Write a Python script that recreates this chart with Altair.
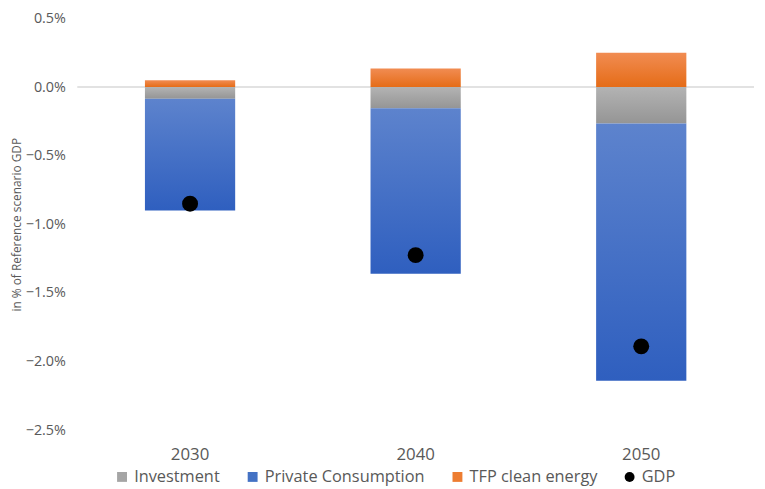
import altair as alt
import pandas as pd

years = ["2030", "2040", "2050"]
investment = [-0.085, -0.155, -0.265]
private_consumption = [-0.815, -1.205, -1.875]
tfp_clean_energy = [0.05, 0.135, 0.25]
gdp = [-0.85, -1.225, -1.89]

series_names = ["Investment", "Private Consumption", "TFP clean energy", "GDP"]
series_colors = ["#a5a5a5", "#4472c4", "#ed7d31", "#000000"]
series_shapes = ["square", "square", "square", "circle"]
gradients = {
    "Investment": ("#b3b3b3", "#959595"),
    "Private Consumption": ("#5d83cd", "#2f5fbf"),
    "TFP clean energy": ("#f18c52", "#e56c17"),
}

rows = []
for i, y in enumerate(years):
    rows.append({"year": y, "series": "Investment", "value": investment[i] / 100, "ord": 0})
    rows.append({"year": y, "series": "Private Consumption", "value": private_consumption[i] / 100, "ord": 1})
    rows.append({"year": y, "series": "TFP clean energy", "value": tfp_clean_energy[i] / 100, "ord": 2})
bars_df = pd.DataFrame(rows)
gdp_df = pd.DataFrame({"year": years, "series": ["GDP"] * 3, "value": [g / 100 for g in gdp]})
zero_df = pd.DataFrame({"value": [0.0]})

FONT = "Open Sans"
TXT = "#595959"

x_enc = alt.X("year:N", title=None, sort=years,
              scale=alt.Scale(paddingInner=0.6, paddingOuter=0.3),
              axis=alt.Axis(labelAngle=0, domain=False, ticks=False, grid=False, labelFontSize=17,
                            labelColor=TXT, labelFont=FONT, labelPadding=17))
y_scale = alt.Scale(domain=[-0.025, 0.005], nice=False)
y_axis = alt.Axis(format=".1%", values=[0.005, 0, -0.005, -0.01, -0.015, -0.02, -0.025],
                  domain=False, ticks=False, grid=False, labelFontSize=14.5, labelColor=TXT,
                  labelFont=FONT, labelPadding=12, title="in % of Reference scenario GDP",
                  titleFontSize=12, titleColor=TXT, titleFont=FONT, titleFontWeight="normal",
                  titlePadding=2)

color_scale = alt.Scale(domain=series_names, range=series_colors)
shape_scale = alt.Scale(domain=series_names, range=series_shapes)
legend = alt.Legend(title=None, orient="none", direction="horizontal", legendX=37, legendY=455,
                    labelFontSize=16.5, labelColor=TXT, labelFont=FONT, symbolSize=100,
                    symbolStrokeWidth=0, columnPadding=24, labelOffset=4, labelLimit=400)

rule = alt.Chart(zero_df).mark_rule(color="#d9d9d9", strokeWidth=1.5).encode(
    y=alt.Y("value:Q", scale=y_scale, axis=y_axis))

layers = [rule]
for s in ["Investment", "Private Consumption", "TFP clean energy"]:
    top, bot = gradients[s]
    grad = alt.Gradient(gradient="linear", x1=0, y1=0, x2=0, y2=1,
                        stops=[alt.GradientStop(color=top, offset=0),
                               alt.GradientStop(color=bot, offset=1)])
    layer = alt.Chart(bars_df).transform_stack(
        stack="value", groupby=["year"], as_=["v0", "v1"],
        sort=[alt.SortField("ord", order="ascending")]
    ).transform_filter(alt.datum.series == s).mark_bar(color=grad).encode(
        x=x_enc,
        y=alt.Y("v0:Q", scale=y_scale, axis=y_axis),
        y2="v1:Q",
    )
    layers.append(layer)

points = alt.Chart(gdp_df).mark_point(filled=True, size=260, opacity=1).encode(
    x=x_enc,
    y=alt.Y("value:Q", scale=y_scale, axis=y_axis),
    color=alt.Color("series:N", scale=color_scale, legend=legend),
    shape=alt.Shape("series:N", scale=shape_scale, legend=legend),
)
layers.append(points)

chart = alt.layer(*layers).properties(
    width=684, height=416,
    autosize=alt.AutoSizeParams(type="none"),
    padding={"left": 70, "top": 8, "right": 3, "bottom": 57},
).configure(background="white", view={"stroke": None})

chart.save("out.html", embed_options={"renderer": "svg", "actions": False})
